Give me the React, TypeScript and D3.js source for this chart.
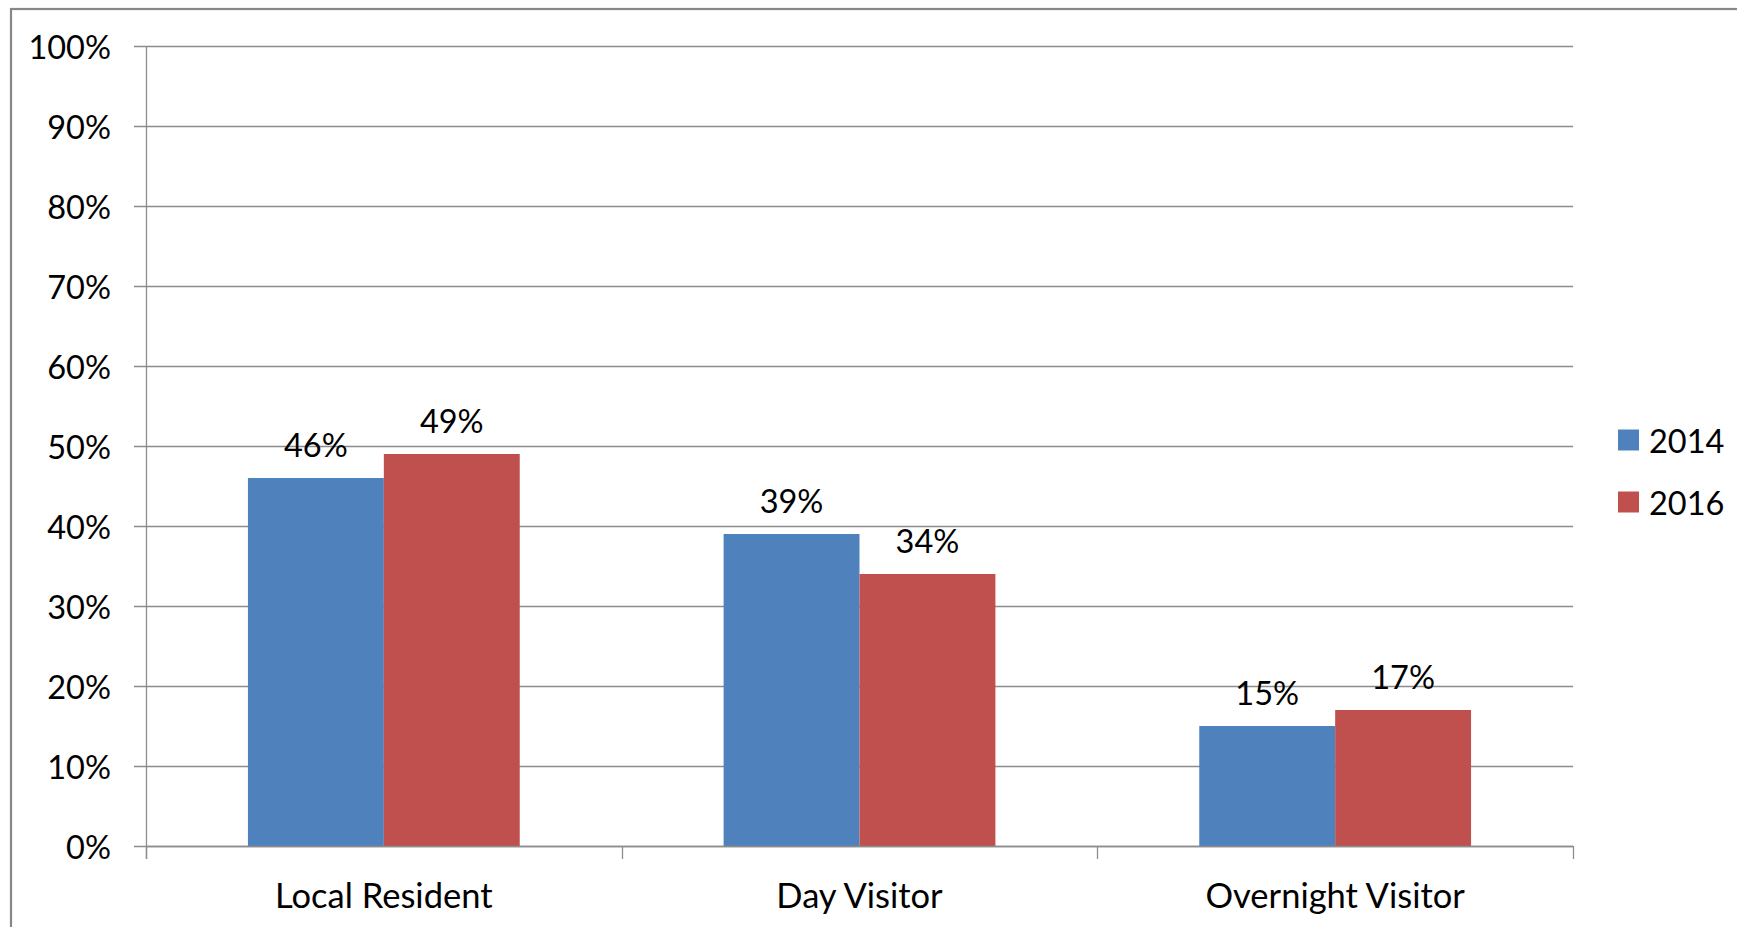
import React from "react";
import * as d3 from "d3";

const categories = ["Local Resident", "Day Visitor", "Overnight Visitor"];
const seriesNames = ["2014", "2016"];
const values2014 = [0.46, 0.39, 0.15];
const values2016 = [0.49, 0.34, 0.17];
const yTicks = [0, 0.1, 0.2, 0.3, 0.4, 0.5, 0.6, 0.7, 0.8, 0.9, 1.0];
const colors = ["#4F81BD", "#C0504D"];

const W = 1737;
const H = 927;
const plot = { left: 146, right: 1573, top: 46, bottom: 846 };
const FONT = "Lato, 'Open Sans', sans-serif";
const GRID = "#8c8c8c";
const NUM_SIZE = 32.5;
const CAT_SIZE = 34.5;

export default function App() {
  const x = d3.scaleBand<string>().domain(categories).range([plot.left, plot.right]).paddingInner(0).paddingOuter(0);
  const inner = d3.scaleBand<string>().domain(seriesNames).range([0, x.bandwidth()]).paddingInner(0).paddingOuter(0.75);
  const y = d3.scaleLinear().domain([0, 1]).range([plot.bottom, plot.top]);
  const pct = d3.format(".0%");
  const series = [values2014, values2016];

  const catEdges = [...categories.map((c) => x(c) as number), plot.right];

  return (
    <svg
      width={W}
      height={H}
      style={{ position: "absolute", left: 0, top: 0, background: "#fff" }}
      fontFamily={FONT}
    >
      <rect x={0} y={0} width={W} height={H} fill="#fff" />
      <rect x={11} y={9} width={W + 20} height={H + 20} fill="none" stroke="#878787" strokeWidth={2.2} />

      {/* gridlines and y ticks */}
      {yTicks.map((t) => (
        <g key={t}>
          <line x1={plot.left - 12} x2={plot.right} y1={Math.round(y(t)) + 0.5} y2={Math.round(y(t)) + 0.5} stroke={GRID} strokeWidth={1.3} />
          <text x={111} y={y(t)} textAnchor="end" dominantBaseline="central" fontSize={NUM_SIZE} fill="#000">
            {pct(t)}
          </text>
        </g>
      ))}

      {/* bars */}
      {categories.map((c, i) =>
        seriesNames.map((s, j) => {
          const bx = (x(c) as number) + (inner(s) as number);
          const v = series[j][i];
          return (
            <g key={c + s}>
              <rect x={bx} y={y(v)} width={inner.bandwidth()} height={plot.bottom - y(v)} fill={colors[j]} />
              <text x={bx + inner.bandwidth() / 2} y={y(v) - 34} textAnchor="middle" dominantBaseline="central" fontSize={NUM_SIZE} fill="#000">
                {pct(v)}
              </text>
            </g>
          );
        })
      )}

      {/* axes */}
      <line x1={plot.left + 0.5} x2={plot.left + 0.5} y1={plot.top} y2={plot.bottom + 13} stroke={GRID} strokeWidth={1.3} />
      <line x1={plot.left} x2={plot.right} y1={plot.bottom + 0.5} y2={plot.bottom + 0.5} stroke={GRID} strokeWidth={1.3} />
      {catEdges.map((e, i) => (
        <line key={i} x1={Math.round(e) + 0.5} x2={Math.round(e) + 0.5} y1={plot.bottom} y2={plot.bottom + 13} stroke={GRID} strokeWidth={1.3} />
      ))}
      {categories.map((c) => (
        <text key={c} x={(x(c) as number) + x.bandwidth() / 2} y={894} textAnchor="middle" dominantBaseline="central" fontSize={CAT_SIZE} fill="#000">
          {c}
        </text>
      ))}

      {/* legend */}
      {seriesNames.map((s, j) => (
        <g key={s} transform={`translate(1618, ${440 + j * 62})`}>
          <rect x={0} y={-10.5} width={21} height={21} fill={colors[j]} />
          <text x={31} y={0} dominantBaseline="central" fontSize={NUM_SIZE} fill="#000">
            {s}
          </text>
        </g>
      ))}
    </svg>
  );
}
